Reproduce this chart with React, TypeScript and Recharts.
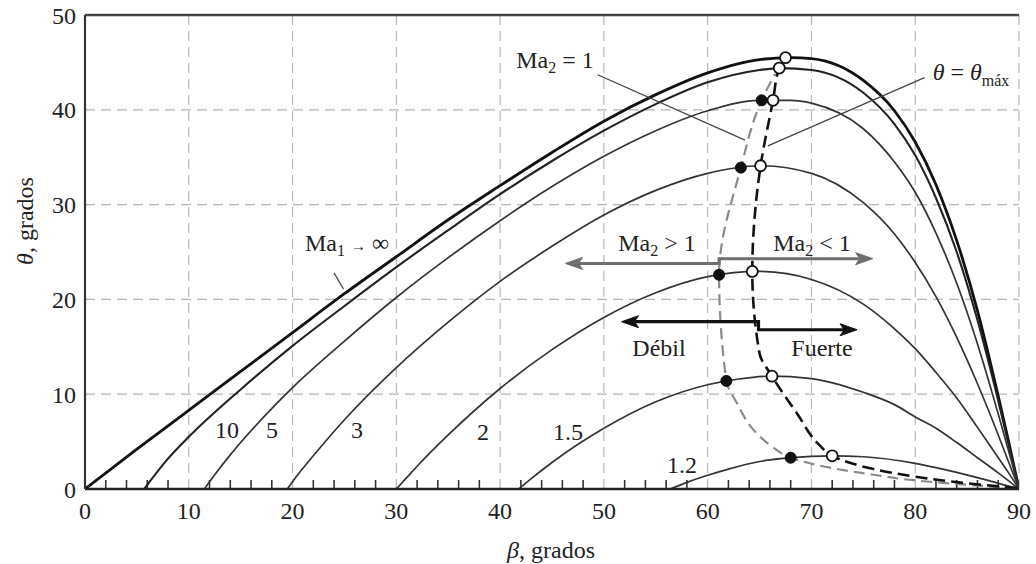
import React from "react";
import {
  ComposedChart,
  Line,
  Scatter,
  XAxis,
  YAxis,
  CartesianGrid,
  ReferenceLine,
} from "recharts";

type Pt = [number, number];

// beta (deg) on x, theta (deg) on y
const betaTicks = [0, 10, 20, 30, 40, 50, 60, 70, 80, 90];
const thetaTicks = [0, 10, 20, 30, 40, 50];
const minorTicks = [
  2, 4, 6, 8, 12, 14, 16, 18, 22, 24, 26, 28, 32, 34, 36, 38, 42, 44, 46, 48,
  52, 54, 56, 58, 62, 64, 66, 68, 72, 74, 76, 78, 82, 84, 86, 88,
];

const maInf: Pt[] = [
  [0, 0], [5, 4.2], [10, 8.3], [15, 12.4], [20, 16.5], [25, 20.6], [30, 24.5],
  [35, 28.4], [40, 32.0], [45, 35.5], [50, 38.8], [55, 41.6], [60, 43.9],
  [65, 45.3], [68, 45.5], [70, 45.4], [75, 43.1], [78, 39.9], [80, 36.6],
  [82, 32.1], [84, 26.2], [86, 18.8], [88, 9.8], [89, 5.0], [90, 0],
];
const ma10: Pt[] = [
  [5.7, 0], [8, 3.2], [10, 5.5], [15, 10.5], [20, 15.1], [25, 19.3], [30, 23.4],
  [35, 27.3], [40, 31.1], [45, 34.6], [50, 37.8], [55, 40.6], [60, 42.9],
  [65, 44.2], [67, 44.4], [70, 44.2], [75, 41.8], [78, 38.5], [80, 35.2],
  [82, 30.7], [84, 25.0], [86, 17.8], [88, 9.3], [89, 4.7], [90, 0],
];
const ma5: Pt[] = [
  [11.5, 0], [12.5, 1.5], [14, 3.6], [15, 4.9], [20, 10.7], [25, 15.6],
  [30, 20.2], [35, 24.4], [40, 28.3], [45, 31.9], [50, 35.1], [55, 37.8],
  [60, 39.9], [65, 41.0], [68, 41.0], [70, 40.7], [75, 38.0], [78, 34.5],
  [80, 31.3], [82, 27.0], [84, 21.7], [86, 15.3], [88, 7.9], [89, 4.0], [90, 0],
];
const ma3: Pt[] = [
  [19.5, 0], [20.5, 1.5], [22, 3.5], [25, 7.3], [30, 12.8], [35, 17.6],
  [40, 21.9], [45, 25.6], [50, 28.9], [55, 31.5], [60, 33.3], [65, 34.1],
  [70, 33.3], [75, 30.2], [78, 26.9], [80, 23.9], [82, 20.3], [84, 16.0],
  [86, 11.1], [88, 5.7], [89, 2.85], [90, 0],
];
const ma2: Pt[] = [
  [30, 0], [31, 1.2], [32, 2.4], [35, 5.7], [40, 10.6], [45, 14.7], [50, 18.1],
  [55, 20.7], [60, 22.4], [65, 22.95], [70, 22.1], [75, 19.5], [78, 16.9],
  [80, 14.8], [82, 12.3], [84, 9.6], [86, 6.5], [88, 3.3], [89, 1.7], [90, 0],
];
const ma15: Pt[] = [
  [41.8, 0], [43, 1.1], [45, 2.8], [50, 6.4], [55, 9.2], [60, 11.0], [63, 11.6],
  [66, 11.9], [70, 11.65], [75, 10.2], [78, 8.9], [80, 7.6], [82, 6.4],
  [84, 4.9], [86, 3.3], [88, 1.7], [90, 0],
];
const ma12: Pt[] = [
  [56.4, 0], [58, 0.7], [60, 1.45], [62, 2.1], [65, 2.9], [67, 3.2], [70, 3.45],
  [72, 3.5], [75, 3.4], [80, 2.7], [82, 2.25], [86, 1.2], [88, 0.6], [90, 0],
];

// Ma2 = 1 (grey dashed) and theta = theta_max (black dashed), bottom to top
const sonicLine: Pt[] = [
  [89.8, 0.05], [85, 0.45], [80, 0.9], [76, 1.5], [72, 2.2], [68, 3.3],
  [66.3, 4.4], [64.7, 5.9], [62.8, 9.1], [61.8, 11.4], [61.1, 22.6],
  [63.2, 33.9], [65.2, 41.0], [66.5, 43.8],
];
const maxLine: Pt[] = [
  [89.8, 0.1], [85, 0.6], [80, 1.3], [76, 2.1], [72, 3.5], [70.8, 4.6],
  [68.6, 8.0], [66.2, 11.9], [65.0, 14.3], [64.3, 22.95], [65.1, 34.1],
  [66.3, 41.0], [66.9, 44.4], [67.5, 45.5],
];
const sonicPoints: Pt[] = [
  [65.2, 41.0], [63.2, 33.9], [61.1, 22.6], [61.8, 11.4], [68, 3.3],
];
const maxPoints: Pt[] = [
  [67.5, 45.5], [66.9, 44.4], [66.3, 41.0], [65.1, 34.1], [64.3, 22.95],
  [66.2, 11.9], [72, 3.5],
];

// arrow shafts
const greyArrow: Pt[] = [[47.5, 23.8], [61.1, 23.8], [61.1, 24.3], [74.7, 24.3]];
const blackArrow: Pt[] = [[52.9, 17.65], [64.9, 17.65], [64.9, 16.8], [73.2, 16.8]];
const greyHeads: [number, number, number][] = [[46.3, 23.8, -1], [75.9, 24.3, 1]];
const blackHeads: [number, number, number][] = [[51.7, 17.65, -1], [74.4, 16.8, 1]];

const toData = (pts: Pt[]) => pts.map(([b, t]) => ({ b, t }));
const headData = (h: [number, number, number][]) =>
  h.map(([b, t, dir]) => ({ b, t, dir }));

const curves = [
  { key: "inf", pts: maInf, w: 2.8, c: "#111" },
  { key: "10", pts: ma10, w: 2.1, c: "#222" },
  { key: "5", pts: ma5, w: 1.7, c: "#333" },
  { key: "3", pts: ma3, w: 1.7, c: "#333" },
  { key: "2", pts: ma2, w: 1.7, c: "#333" },
  { key: "1.5", pts: ma15, w: 1.7, c: "#333" },
  { key: "1.2", pts: ma12, w: 1.7, c: "#333" },
];

const FONT = "'Liberation Serif', 'Times New Roman', serif";
const FS = 24;

function Txt({ x, y, children }: { x: number; y: number; children: React.ReactNode }) {
  return (
    <div
      style={{
        position: "absolute",
        left: x,
        top: y,
        transform: "translate(-50%, -50%)",
        fontFamily: FONT,
        fontSize: FS,
        color: "#222",
        whiteSpace: "nowrap",
        lineHeight: 1,
      }}
    >
      {children}
    </div>
  );
}

const Sub = ({ children }: { children: React.ReactNode }) => (
  <span style={{ fontSize: 16, position: "relative", top: 5 }}>{children}</span>
);

const arrowHead = (color: string) => (p: any) => {
  const { cx, cy } = p;
  const d = p.payload.dir;
  const L = 17;
  const H = 6;
  const pts = `${cx},${cy} ${cx - d * L},${cy - H} ${cx - d * (L - 4)},${cy} ${cx - d * L},${cy + H}`;
  return <polygon points={pts} fill={color} stroke={color} strokeWidth={1} />;
};

export default function App() {
  return (
    <div style={{ position: "absolute", left: 0, top: 0, width: 1036, height: 564, background: "#fff" }}>
      <ComposedChart width={1036} height={564} margin={{ top: 15, right: 17, bottom: 0, left: 0 }}>
        <CartesianGrid stroke="#b5b5b5" strokeDasharray="10 6" strokeWidth={1.2} />
        <XAxis
          type="number"
          dataKey="b"
          domain={[0, 90]}
          ticks={betaTicks}
          interval={0}
          height={75}
          tickLine={false}
          tickMargin={7}
          axisLine={{ stroke: "#222", strokeWidth: 2.5 }}
          tick={{ fontSize: FS, fill: "#222", fontFamily: FONT }}
          allowDataOverflow
        />
        <YAxis
          type="number"
          dataKey="t"
          domain={[0, 50]}
          ticks={thetaTicks}
          interval={0}
          width={85}
          tickLine={false}
          tickMargin={3}
          axisLine={{ stroke: "#333", strokeWidth: 2.2 }}
          tick={{ fontSize: FS, fill: "#222", fontFamily: FONT }}
          allowDataOverflow
        />
        <ReferenceLine y={50} stroke="#444" strokeWidth={2.4} />

        {minorTicks.map((b) => (
          <ReferenceLine
            key={"m" + b}
            segment={[{ x: b, y: 0 }, { x: b, y: 0.95 }]}
            stroke="#333"
            strokeWidth={1.6}
          />
        ))}

        {curves.map((cv) => (
          <Line
            key={cv.key}
            data={toData(cv.pts)}
            dataKey="t"
            type="monotone"
            stroke={cv.c}
            strokeWidth={cv.w}
            dot={false}
            activeDot={false}
            isAnimationActive={false}
          />
        ))}

        <Line
          data={toData(sonicLine)}
          dataKey="t"
          type="monotoneY"
          stroke="#8a8a8a"
          strokeWidth={2.2}
          strokeDasharray="11 6"
          dot={false}
          activeDot={false}
          isAnimationActive={false}
        />
        <Line
          data={toData(maxLine)}
          dataKey="t"
          type="monotoneY"
          stroke="#111"
          strokeWidth={2.6}
          strokeDasharray="12 6"
          dot={false}
          activeDot={false}
          isAnimationActive={false}
        />

        <Line
          data={toData(greyArrow)}
          dataKey="t"
          type="linear"
          stroke="#6e6e6e"
          strokeWidth={3}
          dot={false}
          activeDot={false}
          isAnimationActive={false}
        />
        <Line
          data={toData(blackArrow)}
          dataKey="t"
          type="linear"
          stroke="#111"
          strokeWidth={3.2}
          dot={false}
          activeDot={false}
          isAnimationActive={false}
        />

        <ReferenceLine segment={[{ x: 49.4, y: 43.7 }, { x: 63.6, y: 36.8 }]} stroke="#444" strokeWidth={1.3} ifOverflow="visible" />
        <ReferenceLine segment={[{ x: 80.9, y: 43.4 }, { x: 65.8, y: 36.2 }]} stroke="#444" strokeWidth={1.3} ifOverflow="visible" />
        <ReferenceLine segment={[{ x: 24.0, y: 22.8 }, { x: 24.9, y: 21.1 }]} stroke="#444" strokeWidth={1.3} ifOverflow="visible" />

        <Scatter data={headData(greyHeads)} shape={arrowHead("#6e6e6e")} isAnimationActive={false} />
        <Scatter data={headData(blackHeads)} shape={arrowHead("#111")} isAnimationActive={false} />
        <Scatter
          data={toData(sonicPoints)}
          shape={(p: any) => <circle cx={p.cx} cy={p.cy} r={5.5} fill="#111" stroke="#111" strokeWidth={1} />}
          isAnimationActive={false}
        />
        <Scatter
          data={toData(maxPoints)}
          shape={(p: any) => <circle cx={p.cx} cy={p.cy} r={5.5} fill="#fff" stroke="#111" strokeWidth={1.8} />}
          isAnimationActive={false}
        />
      </ComposedChart>

      <Txt x={347} y={243}>
        Ma<Sub>1</Sub> <span style={{ fontSize: 15 }}>→</span> ∞
      </Txt>
      <Txt x={227} y={430}>10</Txt>
      <Txt x={272} y={430}>5</Txt>
      <Txt x={357} y={430}>3</Txt>
      <Txt x={483} y={432}>2</Txt>
      <Txt x={568} y={432}>1.5</Txt>
      <Txt x={682} y={465}>1.2</Txt>
      <Txt x={555} y={60}>
        Ma<Sub>2</Sub> = 1
      </Txt>
      <Txt x={971} y={72}>
        <i>θ</i> = <i>θ</i>
        <span style={{ fontSize: 16, position: "relative", top: 6 }}>máx</span>
      </Txt>
      <Txt x={657} y={243}>
        Ma<Sub>2</Sub> &gt; 1
      </Txt>
      <Txt x={812} y={243}>
        Ma<Sub>2</Sub> &lt; 1
      </Txt>
      <Txt x={659} y={348}>Débil</Txt>
      <Txt x={822} y={348}>Fuerte</Txt>
      <Txt x={551} y={550}>
        <i>β</i>, grados
      </Txt>
      <div
        style={{
          position: "absolute",
          left: 25,
          top: 221,
          transform: "translate(-50%, -50%) rotate(-90deg)",
          fontFamily: FONT,
          fontSize: FS,
          color: "#222",
          whiteSpace: "nowrap",
          lineHeight: 1,
        }}
      >
        <i>θ</i>, grados
      </div>
    </div>
  );
}
